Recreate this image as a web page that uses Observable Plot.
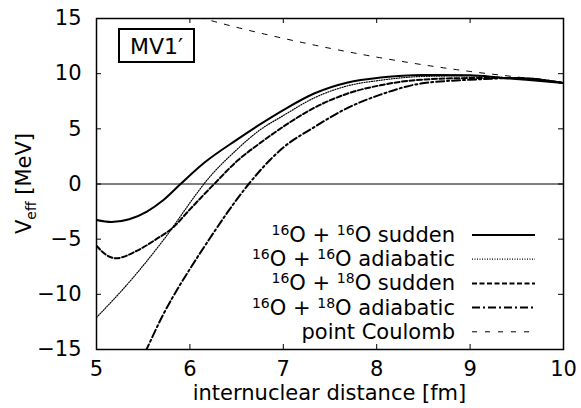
<!DOCTYPE html>
<html><head><meta charset="utf-8">
<script src="https://cdn.jsdelivr.net/npm/d3@7"></script>
<script src="https://cdn.jsdelivr.net/npm/@observablehq/plot@0.6"></script>
<style>body{margin:0;background:#fff}</style>
</head><body><div id="chart"></div>
<script>
// ---- data ----
const xTicks = [5, 6, 7, 8, 9, 10];
const yTicks = [-15, -10, -5, 0, 5, 10, 15];
const seriesNames = ["16O + 16O sudden", "16O + 16O adiabatic", "16O + 18O sudden", "16O + 18O adiabatic", "point Coulomb"];
const boxLabel = "MV1\u2032";
const xLabel = "internuclear distance [fm]";

const s1616sudden = [[5.0,-3.27],[5.16,-3.45],[5.35,-3.2],[5.54,-2.5],[5.71,-1.5],[5.9,0],[6.15,1.9],[6.5,4.0],[6.75,5.4],[7.0,6.7],[7.33,8.2],[7.69,9.2],[8.04,9.65],[8.5,9.88],[9.0,9.85],[9.33,9.63],[9.6,9.45],[10.0,9.15]];
const s1616adiab = [[5.0,-12.1],[5.36,-8.8],[5.71,-5.15],[6.07,-0.9],[6.15,0],[6.5,3.1],[6.75,4.9],[7.0,6.2],[7.33,7.8],[7.69,8.9],[8.04,9.4],[8.5,9.75],[9.0,9.8],[9.5,9.55],[10.0,9.15]];
const s1618sudden = [[5.0,-5.6],[5.1,-6.4],[5.21,-6.73],[5.43,-6.06],[5.64,-5.0],[5.82,-3.94],[6.0,-2.3],[6.26,0],[6.51,2.12],[6.75,3.7],[7.0,5.2],[7.33,6.9],[7.69,8.2],[8.04,8.95],[8.47,9.45],[9.0,9.6],[9.5,9.6],[10.0,9.15]];
const s1618adiab = [[5.45,-16.5],[5.535,-15],[5.71,-11.9],[5.89,-9.2],[6.0,-7.7],[6.2,-5.1],[6.4,-2.6],[6.63,0],[6.86,2.2],[7.0,3.3],[7.33,5.15],[7.69,6.9],[8.04,8.1],[8.47,9.1],[9.0,9.45],[9.5,9.6],[10.0,9.15]];
const coulomb = [[6.1,15.1],[6.5,14.2],[7.0,13.2],[7.5,12.3],[8.0,11.5],[8.5,10.8],[9.0,10.2],[9.5,9.7],[10.0,9.2]];

const FONT = "'DejaVu Sans', sans-serif";
const styles = [
  {w: 2, dash: null},
  {w: 1.2, dash: "1,1.5"},
  {w: 2, dash: "5,2.5"},
  {w: 2, dash: "8,3,2,3"},
  {w: 1, dash: "5,8"}
];
const allSeries = [s1616sudden, s1616adiab, s1618sudden, s1618adiab, coulomb];

const W = 581, H = 408, mL = 96, mR = 18, mT = 18, mB = 59;
const innerW = W - mL - mR, innerH = H - mT - mB;

const lineMarks = allSeries.map((s, i) => Plot.line(s, {
  x: d => d[0], y: d => d[1], curve: "monotone-x",
  stroke: "black", strokeWidth: styles[i].w, strokeDasharray: styles[i].dash, clip: true
}));

const plot = Plot.plot({
  width: W, height: H, marginLeft: mL, marginRight: mR, marginTop: mT, marginBottom: mB,
  x: {domain: [5, 10]},
  y: {domain: [-15, 15]},
  style: {fontFamily: FONT, fontSize: "21px", background: "white", color: "black"},
  marks: [
    Plot.ruleY([0], {stroke: "black", strokeWidth: 1}),
    ...lineMarks,
    Plot.tickX(xTicks.slice(1, -1), {x: d => d, insetTop: innerH - 5, strokeWidth: 1}),
    Plot.tickX(xTicks.slice(1, -1), {x: d => d, insetBottom: innerH - 5, strokeWidth: 1}),
    Plot.tickY(yTicks.slice(1, -1), {y: d => d, insetRight: innerW - 5, strokeWidth: 1}),
    Plot.tickY(yTicks.slice(1, -1), {y: d => d, insetLeft: innerW - 5, strokeWidth: 1}),
    Plot.axisX(xTicks, {tickSize: 0, tickPadding: 12, fontSize: 21, label: null, tickFormat: d => String(d)}),
    Plot.axisY(yTicks, {tickSize: 0, tickPadding: 15, fontSize: 21, label: null, tickFormat: d => (d < 0 ? "\u2212" + Math.abs(d) : String(d))}),
    Plot.frame({stroke: "black", strokeWidth: 1.5})
  ]
});
document.getElementById("chart").append(plot);

const svg = d3.select(plot);
// x label
svg.append("text").attr("x", mL + innerW / 2).attr("y", 400).attr("text-anchor", "middle")
  .style("font-family", FONT).attr("font-size", 21).text(xLabel);
// y label with subscript
const yl = svg.append("text").attr("transform", `translate(31,${mT + innerH / 2}) rotate(-90)`)
  .attr("text-anchor", "middle").style("font-family", FONT).attr("font-size", 21);
yl.append("tspan").text("V");
yl.append("tspan").attr("font-size", 14).attr("dy", 5).text("eff");
yl.append("tspan").attr("dy", -5).text(" [MeV]");

// MV1' box
svg.append("rect").attr("x", 119).attr("y", 29).attr("width", 75).attr("height", 33)
  .attr("fill", "white").attr("stroke", "black").attr("stroke-width", 2);
svg.append("text").attr("x", 156.5).attr("y", 54).attr("text-anchor", "middle")
  .style("font-family", FONT).attr("font-size", 22).text(boxLabel);

// legend
seriesNames.forEach((name, i) => {
  const ly = 235 + i * 24.2;
  const t = svg.append("text").attr("x", 455).attr("y", ly + 7).attr("text-anchor", "end")
    .style("font-family", FONT).attr("font-size", 21);
  const parts = name.split(/(\d+)/);
  let sup = false;
  parts.forEach(p => {
    if (p === "") return;
    if (/^\d+$/.test(p)) {
      t.append("tspan").attr("font-size", 14).attr("dy", sup ? 0 : -7).text(p);
      sup = true;
    } else {
      t.append("tspan").attr("dy", sup ? 7 : 0).text(p);
      sup = false;
    }
  });
  svg.append("line").attr("x1", 472).attr("x2", 535).attr("y1", ly).attr("y2", ly)
    .attr("stroke", "black").attr("stroke-width", styles[i].w)
    .attr("stroke-dasharray", styles[i].dash);
});
</script>
</body></html>
